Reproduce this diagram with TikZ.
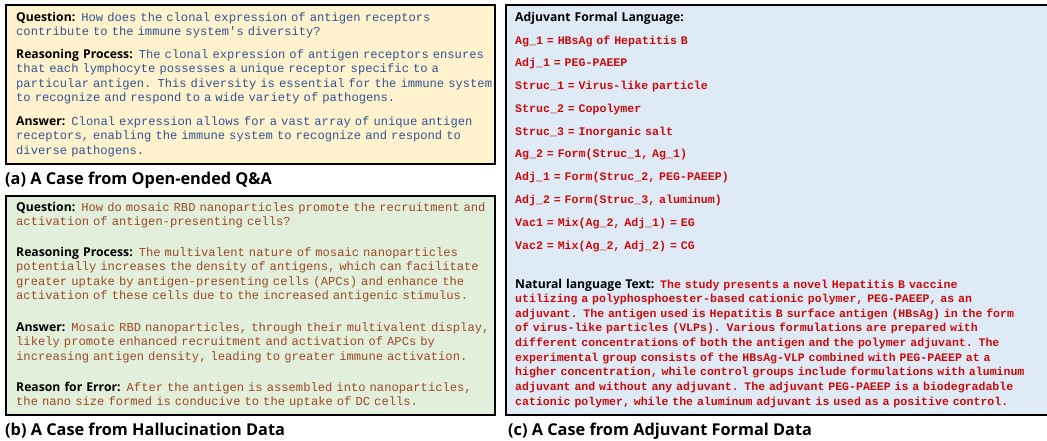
\documentclass[tikz,border=0pt]{standalone}
\usepackage{fontspec}
\setsansfont{Open Sans}
\setmonofont[Scale=1.08]{Liberation Mono}
\usetikzlibrary{positioning}

\definecolor{qablue}{HTML}{2F5597}
\definecolor{hallbrown}{HTML}{9C4A28}
\definecolor{adjred}{HTML}{CC0A0A}
\definecolor{qafill}{HTML}{FFF2CC}
\definecolor{hallfill}{HTML}{E2EFDA}
\definecolor{adjfill}{HTML}{DEEBF7}

% bold sans label in front of each block of code text
\newcommand{\lbl}[1]{{\sffamily\bfseries\fontsize{12.2}{14.6}\selectfont\color{black}#1}}

\begin{document}
\begin{tikzpicture}[x=1pt, y=-1pt,
  panel/.style={draw=black, line width=1.6pt, inner sep=0, anchor=north west},
  para/.style={anchor=base west, inner sep=0, align=left, text width=600pt,
               font=\ttfamily\fontsize{11.25}{14.6}\selectfont},
  formal/.style={para,
                 font=\ttfamily\bfseries\fontsize{10.7}{14.65}\selectfont, text=adjred},
  caption/.style={anchor=base west, inner sep=0,
                  font=\sffamily\bfseries\fontsize{16.3}{19}\selectfont},
]
\useasboundingbox (0,0) rectangle (1047,440);

% the three panels
\node[panel, fill=qafill, minimum width=489pt, minimum height=159pt] (boxa) at (5,4) {};
\node[panel, fill=hallfill, minimum width=489pt, minimum height=219pt] (boxb) at (5,195) {};
\node[panel, fill=adjfill, minimum width=545pt, minimum height=410pt] (boxc) at (505,4) {};

% (a) open-ended Q&A
\node[para, text=qablue] (qaq) at (16,21) {\lbl{Question:} How does the clonal expression of antigen receptors\\
contribute to the immune system's diversity?};
\node[para, text=qablue] (qar) at (16,58) {\lbl{Reasoning Process:} The clonal expression of antigen receptors ensures\\
that each lymphocyte possesses a unique receptor specific to a\\
particular antigen. This diversity is essential for the immune system\\
to recognize and respond to a wide variety of pathogens.};
\node[para, text=qablue] (qaa) at (16,125) {\lbl{Answer:} Clonal expression allows for a vast array of unique antigen\\
receptors, enabling the immune system to recognize and respond to\\
diverse pathogens.};
\node[caption] (capa) at (5,184) {(a) A Case from Open-ended Q\&A};

% (b) hallucination data
\node[para, text=hallbrown] (halq) at (16,211) {\lbl{Question:} How do mosaic RBD nanoparticles promote the recruitment and\\
activation of antigen-presenting cells?};
\node[para, text=hallbrown] (halr) at (16,256) {\lbl{Reasoning Process:} The multivalent nature of mosaic nanoparticles\\
potentially increases the density of antigens, which can facilitate\\
greater uptake by antigen-presenting cells (APCs) and enhance the\\
activation of these cells due to the increased antigenic stimulus.};
\node[para, text=hallbrown] (hala) at (16,331) {\lbl{Answer:} Mosaic RBD nanoparticles, through their multivalent display,\\
likely promote enhanced recruitment and activation of APCs by\\
increasing antigen density, leading to greater immune activation.};
\node[para, text=hallbrown] (hale) at (16,391) {\lbl{Reason for Error:} After the antigen is assembled into nanoparticles,\\
the nano size formed is conducive to the uptake of DC cells.};
\node[caption] (capb) at (5,435) {(b) A Case from Hallucination Data};

% (c) adjuvant formal data
\node[para] (adjh) at (515,21) {\lbl{Adjuvant Formal Language:}};
\node[formal, font=\ttfamily\bfseries\fontsize{10.75}{22.78}\selectfont] (adjf) at (515,44) {Ag\_1 = HBsAg of Hepatitis B\\
Adj\_1 = PEG-PAEEP\\
Struc\_1 = Virus-like particle\\
Struc\_2 = Copolymer\\
Struc\_3 = Inorganic salt\\
Ag\_2 = Form(Struc\_1, Ag\_1)\\
Adj\_1 = Form(Struc\_2, PEG-PAEEP)\\
Adj\_2 = Form(Struc\_3, aluminum)\\
Vac1 = Mix(Ag\_2, Adj\_1) = EG\\
Vac2 = Mix(Ag\_2, Adj\_2) = CG};
\node[formal] (adjt) at (515,288) {\lbl{Natural language Text:} The study presents a novel Hepatitis B vaccine\\
utilizing a polyphosphoester-based cationic polymer, PEG-PAEEP, as an\\
adjuvant. The antigen used is Hepatitis B surface antigen (HBsAg) in the form\\
of virus-like particles (VLPs). Various formulations are prepared with\\
different concentrations of both the antigen and the polymer adjuvant. The\\
experimental group consists of the HBsAg-VLP combined with PEG-PAEEP at a\\
higher concentration, while control groups include formulations with aluminum\\
adjuvant and without any adjuvant. The adjuvant PEG-PAEEP is a biodegradable\\
cationic polymer, while the aluminum adjuvant is used as a positive control.};
\node[caption] (capc) at (508,435) {(c) A Case from Adjuvant Formal Data};
\end{tikzpicture}
\end{document}
